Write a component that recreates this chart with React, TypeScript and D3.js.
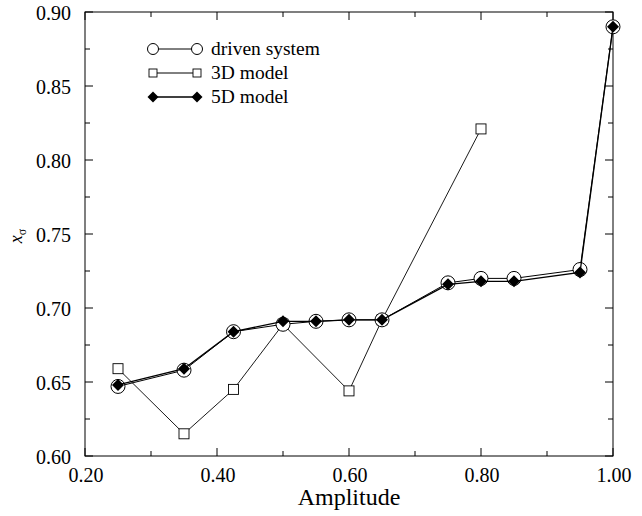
import React from "react";
import * as d3 from "d3";

const drivenX = [0.25, 0.35, 0.425, 0.5, 0.55, 0.6, 0.65, 0.75, 0.8, 0.85, 0.95, 1.0];
const drivenY = [0.647, 0.658, 0.684, 0.689, 0.691, 0.692, 0.692, 0.717, 0.72, 0.72, 0.726, 0.89];
const model3DX = [0.25, 0.35, 0.425, 0.5, 0.6, 0.65, 0.8];
const model3DY = [0.659, 0.615, 0.645, 0.689, 0.644, 0.692, 0.821];
const model5DX = [0.25, 0.35, 0.425, 0.5, 0.55, 0.6, 0.65, 0.75, 0.8, 0.85, 0.95, 1.0];
const model5DY = [0.648, 0.659, 0.684, 0.691, 0.691, 0.692, 0.692, 0.716, 0.718, 0.718, 0.724, 0.89];
const xTicks = [0.2, 0.4, 0.6, 0.8, 1.0];
const xMinor = [0.3, 0.5, 0.7, 0.9];
const yTicks = [0.6, 0.65, 0.7, 0.75, 0.8, 0.85, 0.9];
const yMinor = [0.625, 0.675, 0.725, 0.775, 0.825, 0.875];
const legendLabels = ["driven system", "3D model", "5D model"];

const L = 85, R = 613, T = 12, B = 456;
const serif: React.CSSProperties = { fontFamily: '"Liberation Serif", "Times New Roman", Times, serif' };

export default function App() {
  const x = d3.scaleLinear().domain([0.2, 1.0]).range([L, R]);
  const y = d3.scaleLinear().domain([0.6, 0.9]).range([B, T]);
  const line = d3.line<[number, number]>().x(d => x(d[0])).y(d => y(d[1]));
  const pts = (xs: number[], ys: number[]) => xs.map((v, i) => [v, ys[i]] as [number, number]);
  const driven = pts(drivenX, drivenY);
  const m3 = pts(model3DX, model3DY);
  const m5 = pts(model5DX, model5DY);
  const MAJ = 8, MIN = 5;
  const diamond = (cx: number, cy: number, r: number) =>
    `M${cx},${cy - r}L${cx + r},${cy}L${cx},${cy + r}L${cx - r},${cy}Z`;

  const legendRows = [49, 73, 97];
  const lx1 = 153, lx2 = 197;

  return (
    <svg width={642} height={516} style={{ position: "absolute", left: 0, top: 0, background: "#fff" }}>
      <rect x={0} y={0} width={642} height={516} fill="#fff" />
      <rect x={L} y={T} width={R - L} height={B - T} fill="none" stroke="#000" strokeWidth={1} />
      {xTicks.map(t => (
        <g key={"xt" + t}>
          <line x1={x(t)} x2={x(t)} y1={B} y2={B - MAJ} stroke="#000" />
          <line x1={x(t)} x2={x(t)} y1={T} y2={T + MAJ} stroke="#000" />
          <text x={x(t) + 1} y={482} textAnchor="middle" style={{ ...serif, fontSize: 20 }}>{t.toFixed(2)}</text>
        </g>
      ))}
      {xMinor.map(t => (
        <g key={"xm" + t}>
          <line x1={x(t)} x2={x(t)} y1={B} y2={B - MIN} stroke="#000" />
          <line x1={x(t)} x2={x(t)} y1={T} y2={T + MIN} stroke="#000" />
        </g>
      ))}
      {yTicks.map(t => (
        <g key={"yt" + t}>
          <line x1={L} x2={L + MAJ} y1={y(t)} y2={y(t)} stroke="#000" />
          <line x1={R} x2={R - MAJ} y1={y(t)} y2={y(t)} stroke="#000" />
          <text x={71} y={y(t) + 7.5} textAnchor="end" style={{ ...serif, fontSize: 20 }}>{t.toFixed(2)}</text>
        </g>
      ))}
      {yMinor.map(t => (
        <g key={"ym" + t}>
          <line x1={L} x2={L + MIN} y1={y(t)} y2={y(t)} stroke="#000" />
          <line x1={R} x2={R - MIN} y1={y(t)} y2={y(t)} stroke="#000" />
        </g>
      ))}
      <text x={(L + R) / 2} y={505} textAnchor="middle" style={{ ...serif, fontSize: 24 }}>Amplitude</text>
      <text transform="translate(22,236) rotate(-90)" textAnchor="middle" style={{ ...serif, fontSize: 18 }}>
        <tspan fontStyle="italic">x</tspan>
        <tspan fontSize={12} dy={4}>σ</tspan>
      </text>

      <path d={line(m3) ?? ""} fill="none" stroke="#000" strokeWidth={0.9} />
      {m3.map((p, i) => (
        <rect key={"s" + i} x={x(p[0]) - 5} y={y(p[1]) - 5} width={10} height={10} fill="#fff" stroke="#000" strokeWidth={0.9} />
      ))}
      <path d={line(driven) ?? ""} fill="none" stroke="#000" strokeWidth={1} />
      {driven.map((p, i) => (
        <circle key={"c" + i} cx={x(p[0])} cy={y(p[1])} r={7} fill="#fff" stroke="#000" strokeWidth={1} />
      ))}
      <path d={line(m5) ?? ""} fill="none" stroke="#000" strokeWidth={1.3} />
      {m5.map((p, i) => (
        <path key={"d" + i} d={diamond(x(p[0]), y(p[1]), 6)} fill="#000" />
      ))}

      {legendLabels.map((lab, i) => {
        const ly = legendRows[i];
        return (
          <g key={lab}>
            <line x1={lx1} x2={lx2} y1={ly} y2={ly} stroke="#000" strokeWidth={i === 2 ? 1.3 : 1} />
            {i === 0 && [lx1, lx2].map(cx => <circle key={cx} cx={cx} cy={ly} r={5.5} fill="#fff" stroke="#000" />)}
            {i === 1 && [lx1, lx2].map(cx => <rect key={cx} x={cx - 4} y={ly - 4} width={8} height={8} fill="#fff" stroke="#000" strokeWidth={0.9} />)}
            {i === 2 && [lx1, lx2].map(cx => <path key={cx} d={diamond(cx, ly, 5.5)} fill="#000" />)}
            <text x={211} y={ly + 6} style={{ ...serif, fontSize: 19.5 }}>{lab}</text>
          </g>
        );
      })}
    </svg>
  );
}
